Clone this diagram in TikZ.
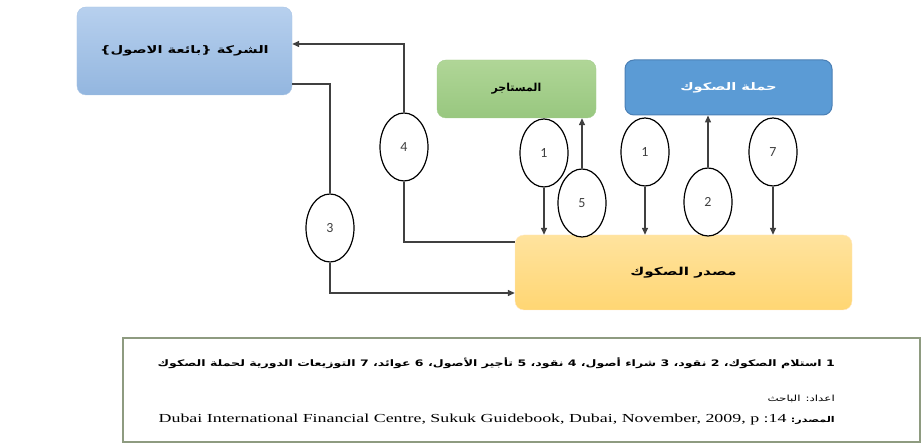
\documentclass[tikz,border=0pt]{standalone}
\usepackage{fontspec}
\setmainfont[FakeStretch=1.46]{Liberation Serif}
\newfontfamily\arabicfont[Script=Arabic]{DejaVu Sans}
\newfontfamily\arabicwide[Script=Arabic,FakeStretch=1.4]{DejaVu Sans}
\newfontfamily\numfont{Carlito}
\TeXXeTstate=1
\usetikzlibrary{shapes.geometric,arrows.meta}

\definecolor{sellerTop}{HTML}{B7D0EE}
\definecolor{sellerBot}{HTML}{93B6DF}
\definecolor{lesseeTop}{HTML}{B0D697}
\definecolor{lesseeBot}{HTML}{98C77F}
\definecolor{holderFill}{HTML}{5B9BD5}
\definecolor{holderLine}{HTML}{4A7FB5}
\definecolor{issuerTop}{HTML}{FFE39E}
\definecolor{issuerBot}{HTML}{FFD673}
\definecolor{linkGrey}{HTML}{404040}
\definecolor{legendLine}{HTML}{8E9B80}

\tikzset{
  x=1bp, y=-1bp,
  party/.style={rounded corners=9bp, inner sep=0pt, align=center,
    font=\arabicwide\bfseries\fontsize{10.5}{12}\selectfont},
  tag/.style={ellipse, draw=black, line width=1.2bp, fill=white,
    minimum width=48bp, minimum height=68bp, inner sep=0pt,
    font=\numfont\fontsize{14}{16}\selectfont, text=linkGrey},
  link/.style={draw=linkGrey, line width=1.4bp},
  arr/.style={link, -{Triangle[length=7bp,width=6bp]}},
}

\begin{document}
\begin{tikzpicture}
\useasboundingbox (0,0) rectangle (923,444);

% parties
\node[party, top color=sellerTop, bottom color=sellerBot, draw=sellerBot!80!white,
  minimum width=215bp, minimum height=88bp] (seller) at (184.5,51)
  {\beginR الشركة {\{}بائعة الاصول{\}}\endR};
\node[party, top color=lesseeTop, bottom color=lesseeBot, draw=lesseeBot!90!white,
  minimum width=159bp, minimum height=58bp,
  font=\arabicfont\bfseries\fontsize{11}{13}\selectfont] (lessee) at (516.5,89)
  {\beginR المستاجر\endR};
\node[party, fill=holderFill, draw=holderLine, line width=1bp, text=white,
  minimum width=207bp, minimum height=55bp] (holders) at (728.5,87.5)
  {\beginR حملة الصكوك\endR};
\node[party, top color=issuerTop, bottom color=issuerBot, draw=issuerTop!70!orange!40,
  minimum width=337bp, minimum height=75bp,
  font=\arabicwide\bfseries\fontsize{11}{13}\selectfont] (issuer) at (683.5,272.5)
  {\beginR مصدر الصكوك\endR};

% numbered flow tags
\node[tag] (e4)  at (404,147) {4};
\node[tag] (e3)  at (330,228) {3};
\node[tag] (e1a) at (544,153) {1};
\node[tag] (e1b) at (645,152) {1};
\node[tag] (e7)  at (773,152) {7};
\node[tag] (e2)  at (708,202) {2};
\node[tag] (e5)  at (582,203) {5};

% 4: cash from issuer to seller
\coordinate (c4a) at (404,242);
\coordinate (c4b) at (404,44);
\draw[link] (e4.south) -- (c4a) -- (c4a -| issuer.west);
\draw[arr] (e4.north) -- (c4b) -- (c4b -| seller.east);

% 3: assets from seller to issuer
\coordinate (c3a) at (330,84);
\coordinate (c3b) at (330,293);
\draw[link] (c3a -| seller.east) -- (c3a) -- (e3.north);
\draw[arr] (e3.south) -- (c3b) -- (c3b -| issuer.west);

% vertical flows
\draw[arr] (e1a.south) -- (e1a.south |- issuer.north);
\draw[arr] (e1b.south) -- (e1b.south |- issuer.north);
\draw[arr] (e7.south) -- (e7.south |- issuer.north);
\draw[arr] (e2.north) -- (e2.north |- holders.south);
\draw[arr] (e5.north) -- (e5.north |- lessee.south);

% legend
\node[draw=legendLine, line width=1.8bp, fill=white, inner sep=0pt,
  minimum width=797bp, minimum height=104bp] (legend) at (521.5,390) {};
\node[anchor=east, inner sep=0pt, font=\arabicwide\bfseries\fontsize{9}{11}\selectfont] (key) at (835,363)
  {\beginR 1 استلام الصكوك، 2 نقود، 3 شراء أصول، 4 نقود، 5 تأجير الأصول، 6 عوائد، 7 التوزيعات الدورية لحملة الصكوك\endR};
\node[anchor=east, inner sep=0pt, font=\arabicwide\fontsize{8.5}{10}\selectfont] (author) at (835,399)
  {\beginR اعداد: الباحث\endR};
\node[anchor=east, inner sep=0pt, font=\fontsize{12.3}{14}\selectfont] (source) at (835,420)
  {Dubai International Financial Centre, Sukuk Guidebook, Dubai, November, 2009, p :14 {\arabicwide\bfseries\fontsize{8}{10}\selectfont\beginR المصدر:\endR}};
\end{tikzpicture}
\end{document}
